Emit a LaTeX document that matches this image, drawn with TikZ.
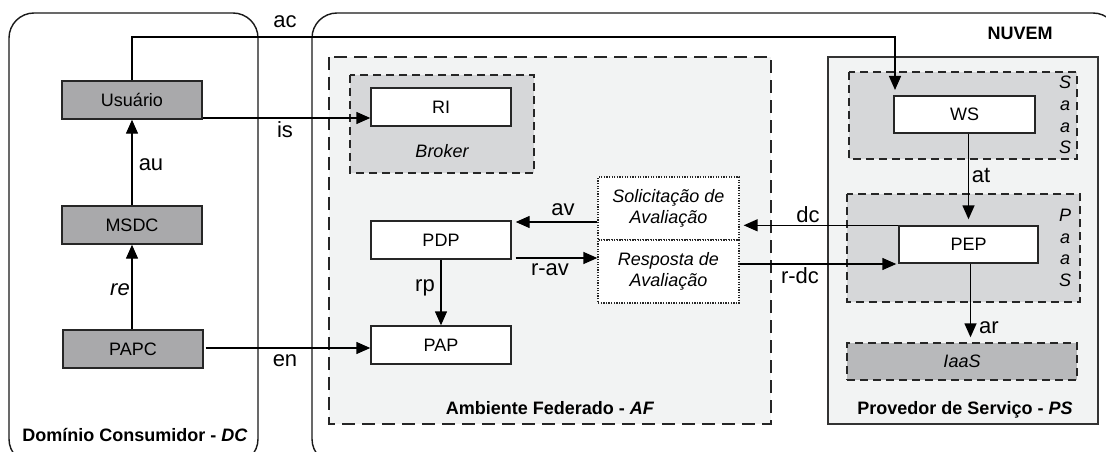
\documentclass[tikz,border=0pt]{standalone}
\usepackage{fontspec}
\setmainfont{Liberation Sans}
\usetikzlibrary{arrows.meta}
\definecolor{boxgray}{HTML}{A9A9AB}
\definecolor{zonegray}{HTML}{D6D7D9}
\definecolor{iaasgray}{HTML}{B8B9BB}
\definecolor{areagray}{HTML}{F2F3F3}
\tikzset{
  txt/.style={font=\fontsize{18}{21.5}\selectfont},
  lbl/.style={font=\fontsize{22}{26}\selectfont, inner sep=0pt},
  ttl/.style={font=\fontsize{18}{21.5}\selectfont\bfseries, inner sep=0pt},
  comp/.style={txt, draw=black!85, line width=1.4pt, minimum width=140pt, minimum height=38pt, inner sep=0pt},
  dccomp/.style={comp, fill=boxgray},
  afcomp/.style={comp, fill=white},
  msgbox/.style={txt, draw=black!85, fill=white, line width=1.3pt, dash pattern=on 1.3pt off 1.3pt, minimum width=141pt, minimum height=63pt, inner sep=0pt, align=center},
  zone/.style={draw=black!85, line width=1.4pt, dash pattern=on 8pt off 5pt},
  bigzone/.style={draw=black!85, line width=1.4pt, dash pattern=on 13pt off 7pt},
  realm/.style={draw=black!90, line width=1.4pt, rounded corners=25pt},
  arr/.style={line width=1.4pt, -{Triangle[length=14pt,width=12pt]}}
}
\begin{document}
\begin{tikzpicture}[x=1pt,y=-1pt]
  \useasboundingbox (0,0) rectangle (1106,452);
  \clip (0,0) rectangle (1106,452);

  % domains
  \draw[realm] (9,13) rectangle (258,464);
  \draw[realm] (312,13) rectangle (1118,464);
  \node[ttl] (dctitle) at (135,435) {Domínio Consumidor - \textit{DC}};
  \node[ttl] (nuvem) at (1020,33) {NUVEM};

  % federated environment
  \draw[bigzone, fill=areagray] (329,57) rectangle (771,424);
  \node[ttl] (aftitle) at (550,408) {Ambiente Federado - \textit{AF}};
  \draw[zone, fill=zonegray] (350,75) rectangle (534,173);
  \node[txt, font=\fontsize{18}{21.5}\selectfont\itshape] (broker) at (442,151) {Broker};

  % service provider
  \draw[draw=black!80, line width=1.4pt, fill=areagray] (828,57) rectangle (1098,424);
  \node[ttl] (pstitle) at (965,410) {Provedor de Serviço - \textit{PS}};
  \draw[zone, fill=zonegray] (849,72) rectangle (1077,159);
  \node[txt, font=\fontsize{18}{21.7}\selectfont\itshape, align=center, inner sep=0pt] (saas) at (1065,115) {S\\a\\a\\S};
  \draw[zone, fill=zonegray] (847,194) rectangle (1080,302);
  \node[txt, font=\fontsize{18}{21.7}\selectfont\itshape, align=center, inner sep=0pt] (paas) at (1065,248) {P\\a\\a\\S};
  \node[zone, fill=iaasgray, minimum width=230pt, minimum height=37pt, inner sep=0pt, font=\fontsize{18}{21.5}\selectfont\itshape] (iaas) at (962,361.5) {IaaS};

  % consumer components
  \node[dccomp] (usuario) at (132,100) {Usuário};
  \node[dccomp] (msdc) at (132,225) {MSDC};
  \node[dccomp] (papc) at (133,349) {PAPC};

  % federated components
  \node[afcomp] (ri) at (441,107) {RI};
  \node[afcomp] (pdp) at (441,240) {PDP};
  \node[afcomp] (pap) at (441,345) {PAP};
  \node[msgbox] (sol) at (668.5,208.5) {\itshape Solicitação de\\\itshape Avaliação};
  \node[msgbox] (res) at (668.5,271.5) {\itshape Resposta de\\\itshape Avaliação};

  % provider components
  \node[afcomp, minimum width=141pt, minimum height=37pt] (ws) at (964.5,114.5) {WS};
  \node[afcomp, minimum width=139pt, minimum height=37pt] (pep) at (968.5,244.5) {PEP};

  % helper coordinates for connector rows
  \coordinate (actop) at (895,37);
  \coordinate (acend) at (895,90);
  \coordinate (isrow) at (0,118);
  \coordinate (enrow) at (0,348);
  \coordinate (avrow) at (0,222);
  \coordinate (ravrow) at (0,258);
  \coordinate (rdcrow) at (0,264);

  % connectors
  \draw[arr] (usuario.north) |- (actop) -- (acend);
  \draw[arr] (usuario.east |- isrow) -- (ri.west |- isrow);
  \draw[arr] ([xshift=2pt]papc.east |- enrow) -- (pap.west |- enrow);
  \draw[arr] (msdc.north) -- (usuario.south);
  \draw[arr] (papc.north -| msdc.south) -- (msdc.south);
  \draw[arr, shorten >=4pt] (sol.west |- avrow) -- (pdp.east |- avrow);
  \draw[arr, shorten <=4pt] (pdp.east |- ravrow) -- (res.west |- ravrow);
  \draw[arr] (pdp.south) -- (pap.north);
  \draw[arr, shorten >=4pt] (pep.north west) -- (sol.east |- pep.north west);
  \draw[arr, shorten >=2pt] (res.east |- rdcrow) -- (pep.west |- rdcrow);
  \draw[arr, shorten >=6pt] (pep.north |- ws.south) -- (pep.north);
  \draw[arr, shorten >=5pt] ([xshift=2pt]pep.south) -- ([xshift=2pt]pep.south |- iaas.north);

  % connector labels
  \node[lbl] (lac) at (285,22) {ac};
  \node[lbl] (lis) at (285,130) {is};
  \node[lbl] (len) at (285,361) {en};
  \node[lbl] (lau) at (151,165) {au};
  \node[lbl, font=\fontsize{22}{26}\selectfont\itshape] (lre) at (120,290) {re};
  \node[lbl] (lav) at (563,210) {av};
  \node[lbl] (lrav) at (550,270) {r-av};
  \node[lbl] (lrp) at (425,288) {rp};
  \node[lbl] (ldc) at (808,215) {dc};
  \node[lbl] (lrdc) at (800,276) {r-dc};
  \node[lbl] (lat) at (981,175) {at};
  \node[lbl] (lar) at (989,328) {ar};
\end{tikzpicture}
\end{document}
